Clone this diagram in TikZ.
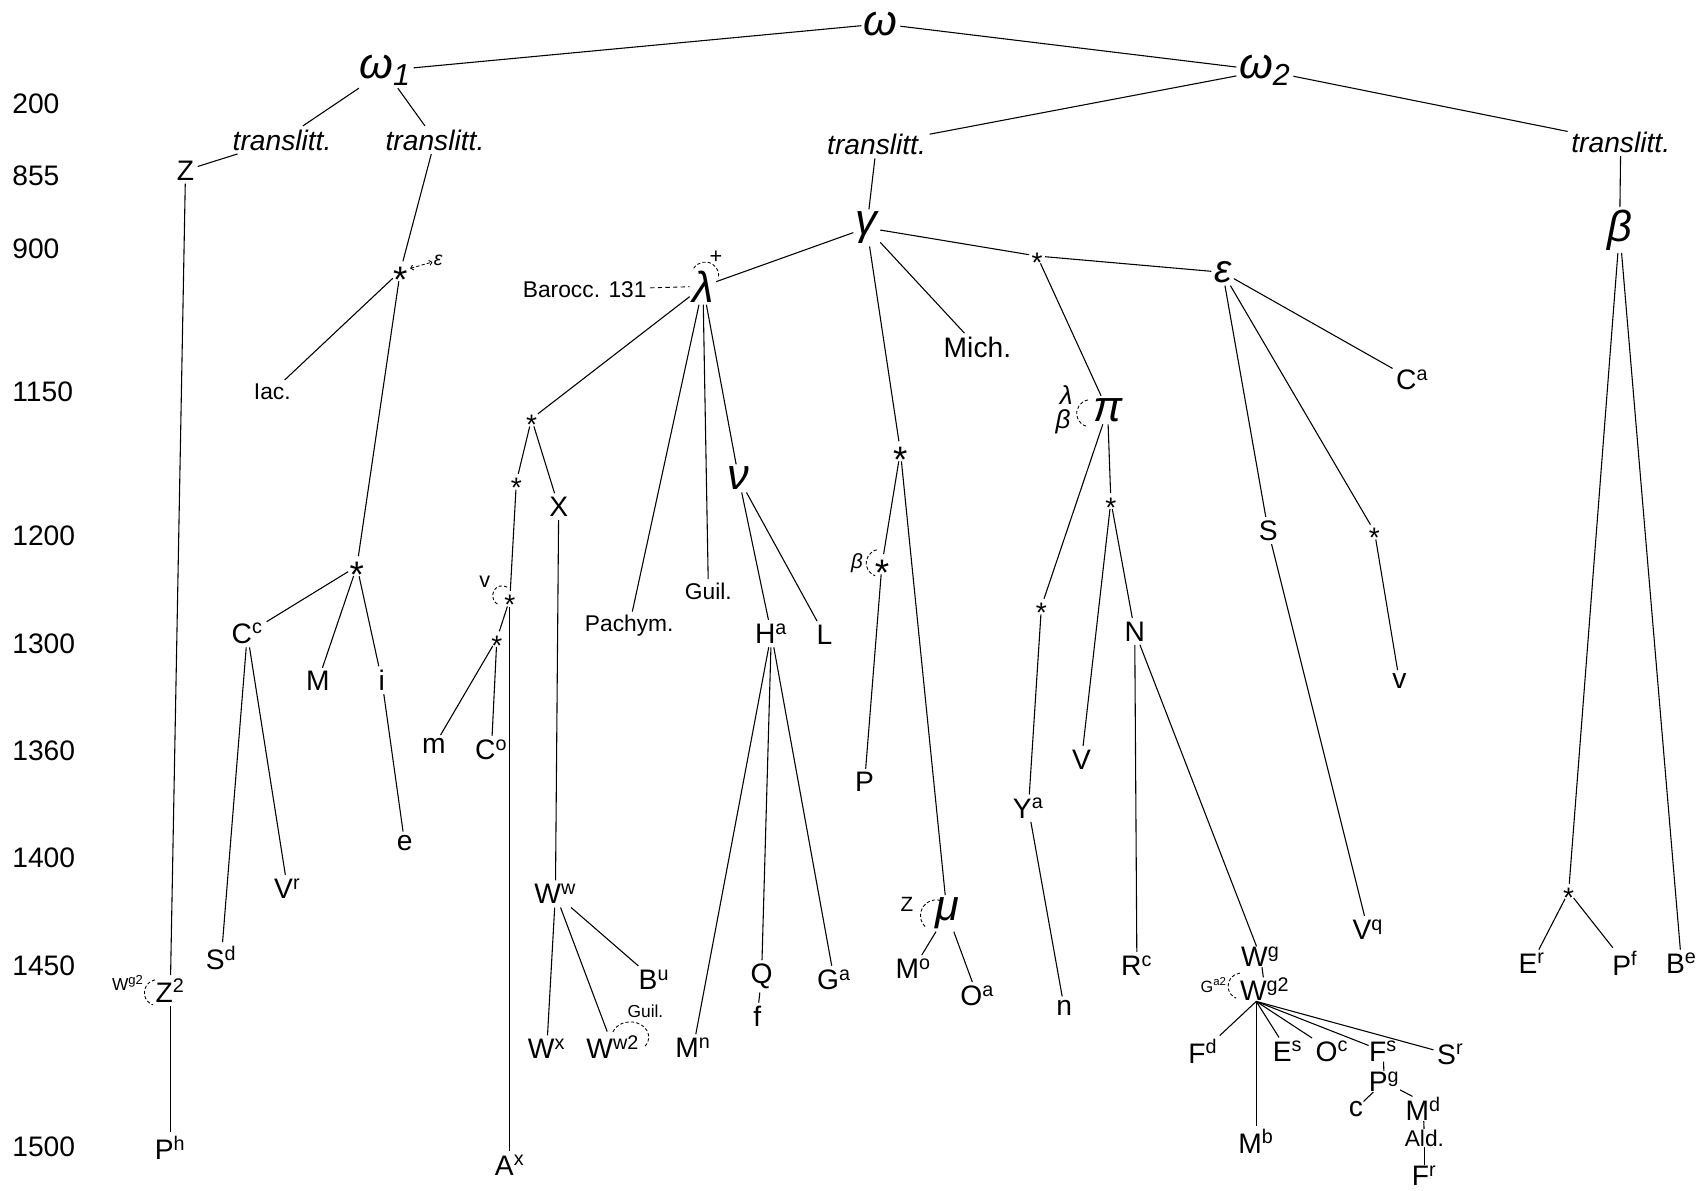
\documentclass[tikz,border=0pt]{standalone}
\usepackage{fontspec}
\setmainfont{Liberation Sans}
\usetikzlibrary{arrows.meta}
\newcommand{\lostmark}{\smash{\raisebox{-0.57em}{*}}}
\newcommand{\msup}[1]{\textsuperscript{#1}}
\newcommand{\bow}[5]{\draw[bow] ([shift={#2}]#1.center) ++(#3:#5) arc[start angle=#3, end angle=#4, radius=#5];}

\begin{document}
\begin{tikzpicture}[x=0.5pt, y=-0.5pt,
  every node/.style={font=\fontsize{13}{15}\selectfont, inner sep=1.5pt},
  named/.style={font=\fontsize{10.5}{12}\selectfont},
  greek/.style={font=\fontsize{20}{22}\selectfont\itshape, inner sep=1pt},
  tl/.style={font=\fontsize{13}{15}\selectfont\itshape},
  year/.style={anchor=west, inner sep=0pt},
  tight/.style={inner sep=0pt},
  lost/.style={circle, inner sep=0pt, minimum size=7pt},
  biglost/.style={lost, minimum size=9pt, font=\fontsize{17}{19}\selectfont},
  note/.style={font=\fontsize{9}{10}\selectfont, inner sep=0.5pt},
  link/.style={line width=0.5pt},
  bow/.style={line width=0.4pt, dash pattern=on 1.5pt off 1pt}]
\useasboundingbox (0,0) rectangle (1568,1097);

% dating scale
\foreach \yr/\yy in {200/96, 855/162, 900/229, 1150/361, 1200/494, 1300/593, 1360/692, 1400/791, 1450/890, 1500/1057}
  \node[year] (yr\yr) at (11,\yy) {\yr};

% archetypes and transliterations
\node[greek] (om) at (812,22) {ω};
\node[greek] (om1) at (355,65) {ω\textsubscript{1}};
\node[greek] (om2) at (1166,65) {ω\textsubscript{2}};
\node[tl] (tA) at (260,129) {translitt.};
\node[tl] (tB) at (401,129) {translitt.};
\node[tl] (tC) at (808,133) {translitt.};
\node[tl] (tD) at (1494,131) {translitt.};

% left branch
\node (Z) at (171,157) {Z};
\node (Z2) at (157,913) {Z\msup{2}};
\node (Ph) at (157,1058) {P\msup{h}};
\node[biglost] (sA) at (369,250) {\lostmark};
\node[named] (Iac) at (251,361) {Iac.};
\node[biglost] (sB) at (329,522) {\lostmark};
\node (Cc) at (228,584) {C\msup{c}};
\node (M) at (293,628) {M};
\node (i) at (352,627) {i};
\node (e) at (373,777) {e};
\node (Vr) at (265,819) {V\msup{r}};
\node (Sd) at (204,883) {S\msup{d}};

% gamma and beta
\node[greek] (ga) at (799,210) {γ};
\node[greek] (be) at (1493,212) {β};
\node[greek] (la) at (648,264) {λ};
\node[named] (Bar) at (539,267) {Barocc. 131};
\node[lost] (sC) at (956,236) {\lostmark};
\node[greek, font=\fontsize{18}{20}\selectfont\itshape] (ep) at (1127,251) {ε};
\node (Mich) at (901,320) {Mich.};
\node (Ca) at (1302,350) {C\msup{a}};
\node[greek] (pi) at (1021,378) {π};
\node[lost] (sD) at (490,386) {\lostmark};
\node[biglost] (sE) at (830,416) {\lostmark};
\node[lost] (sF) at (476,444) {\lostmark};
\node (X) at (515,467) {X};
\node[greek] (nu) at (681,441) {ν};
\node[lost] (sG) at (1024,462) {\lostmark};
\node (S) at (1169,489) {S};
\node[lost] (sH) at (1267,490) {\lostmark};
\node[biglost] (sI) at (813,520) {\lostmark};
\node[named] (Guil) at (653,545) {Guil.};
\node[lost] (sJ) at (470,552) {\lostmark};
\node[lost] (sK) at (960,559) {\lostmark};
\node[named] (Pachym) at (580,577) {Pachym.};
\node[lost] (sL) at (458,589) {\lostmark};
\node (Ha) at (711,584) {H\msup{a}};
\node (L) at (760,585) {L};
\node (N) at (1046,582) {N};
\node (v) at (1290,628) {v};
\node (m) at (400,688) {m};
\node (Co) at (453,691) {C\msup{o}};
\node (V) at (997,700) {V};
\node (P) at (797,721) {P};
\node (Ya) at (948,745) {Y\msup{a}};
\node (Ww) at (512,824) {W\msup{w}};
\node[greek] (mu) at (873,842) {μ};
\node[lost] (sM) at (1446,822) {\lostmark};
\node (Vq) at (1261,857) {V\msup{q}};
\node[tight] (Wg) at (1162,882) {W\msup{g}};
\node (Mo) at (842,893) {M\msup{o}};
\node (Bu) at (603,903) {B\msup{u}};
\node (Q) at (702,900) {Q};
\node (Ga) at (769,903) {G\msup{a}};
\node (Er) at (1412,888) {E\msup{r}};
\node (Pf) at (1498,888) {P\msup{f}};
\node (Be) at (1550,888) {B\msup{e}};
\node (Rc) at (1048,890) {R\msup{c}};
\node (Oa) at (901,918) {O\msup{a}};
\node[tight] (Wg2) at (1166,912) {W\msup{g2}};
\node (n) at (981,929) {n};
\node (f) at (698,937) {f};
\node (Wx) at (504,967) {W\msup{x}};
\node (Ww2) at (565,965) {W\msup{w2}};
\node (Mn) at (639,966) {M\msup{n}};
\node (Fd) at (1109,969) {F\msup{d}};
\node (Es) at (1187,969) {E\msup{s}};
\node (Oc) at (1228,969) {O\msup{c}};
\node[tight] (Fs) at (1275,969) {F\msup{s}};
\node (Sr) at (1337,972) {S\msup{r}};
\node[tight] (Pg) at (1276,997) {P\msup{g}};
\node[tight] (c) at (1250,1022) {c};
\node[tight] (Md) at (1312,1022) {M\msup{d}};
\node[named, tight] (Ald) at (1313,1049) {Ald.};
\node[tight] (Fr) at (1313,1084) {F\msup{r}};
\node (Mb) at (1158,1052) {M\msup{b}};
\node (Ax) at (470,1074) {A\msup{x}};

% contamination notes
\node[note, font=\fontsize{9}{10}\selectfont\itshape] (lEps) at (404,240) {ε};
\node[note, font=\fontsize{10}{11}\selectfont] (lPlus) at (660,237) {+};
\node[note, font=\fontsize{12}{13}\selectfont\itshape] (lLam) at (983,364) {λ};
\node[note, font=\fontsize{12}{13}\selectfont\itshape] (lBet) at (980,389) {β};
\node[note, font=\fontsize{9.5}{10}\selectfont\itshape] (lBeta) at (790,519) {β};
\node[note, font=\fontsize{10}{11}\selectfont] (lV) at (447,536) {v};
\node[note, font=\fontsize{9.5}{10}\selectfont] (lZ) at (836,834) {Z};
\node[note, font=\fontsize{8}{9}\selectfont] (lGuil) at (595,932) {Guil.};
\node[note, font=\fontsize{8}{9}\selectfont] (lWz) at (118,906) {W\msup{g2}};
\node[note, font=\fontsize{7.5}{9}\selectfont] (lGa) at (1119,908) {G\msup{a2}};

% filiation
\foreach \p/\c in {om/om1, om/om2, om1/tA, om1/tB, tA/Z, Z/Z2, Z2/Ph,
    tB/sA, sA/Iac, sA/sB, sB/Cc, sB/M, sB/i, i/e, Cc/Sd, Cc/Vr,
    om2/tC, om2/tD, tC/ga, tD/be, ga/la, ga/sC, ga/Mich, ga/sE, sC/ep, sC/pi,
    la/sD, la/Pachym, la/Guil, la/nu, sD/sF, sD/X, sF/sJ, sJ/sL, sJ/Ax, sL/m, sL/Co,
    X/Ww, Ww/Wx, Ww/Ww2, Ww/Bu, nu/Ha, nu/L, Ha/Mn, Ha/Q, Ha/Ga, Q/f,
    sE/sI, sE/mu, sI/P, mu/Mo, mu/Oa, pi/sG, pi/sK, sK/Ya, Ya/n, sG/V, sG/N,
    N/Rc, N/Wg, Wg/Wg2, Fs/Pg, Pg/c, Md/Ald, Ald/Fr, ep/S, ep/sH, ep/Ca, S/Vq, sH/v,
    be/sM, be/Be, sM/Er, sM/Pf}
  \draw[link] (\p) -- (\c);
\foreach \c in {Fd, Mb, Es, Oc, Fs, Sr}
  \draw[link] ([xshift=-4pt]Wg2.south) -- (\c);
\draw[link] (Pg) -- ([xshift=-5pt]Md.north);

% contamination
\draw[bow, dash pattern=on 2pt off 1.5pt] (Bar) -- (la);
\draw[bow, {Straight Barb[length=1.2pt,width=2.4pt]}-{Straight Barb[length=1.2pt,width=2.4pt]}] (sA) -- (lEps);
\bow{la}{(2,-10)}{212}{370}{12.5}
\bow{Z2}{(-12,2)}{260}{110}{12}
\bow{Wg2}{(-22,-3)}{265}{112}{12}
\bow{pi}{(-16,3)}{260}{100}{12.5}
\bow{sI}{(-2,-1)}{257}{110}{12.5}
\bow{sJ}{(-7,-3)}{300}{115}{9}
\bow{mu}{(-10,2)}{286}{132}{14.5}
\draw[bow] ([shift={(16,-9)}]Ww2.center) ++(200:17 and 14) arc[start angle=200, end angle=400, x radius=17, y radius=14];
\end{tikzpicture}
\end{document}
